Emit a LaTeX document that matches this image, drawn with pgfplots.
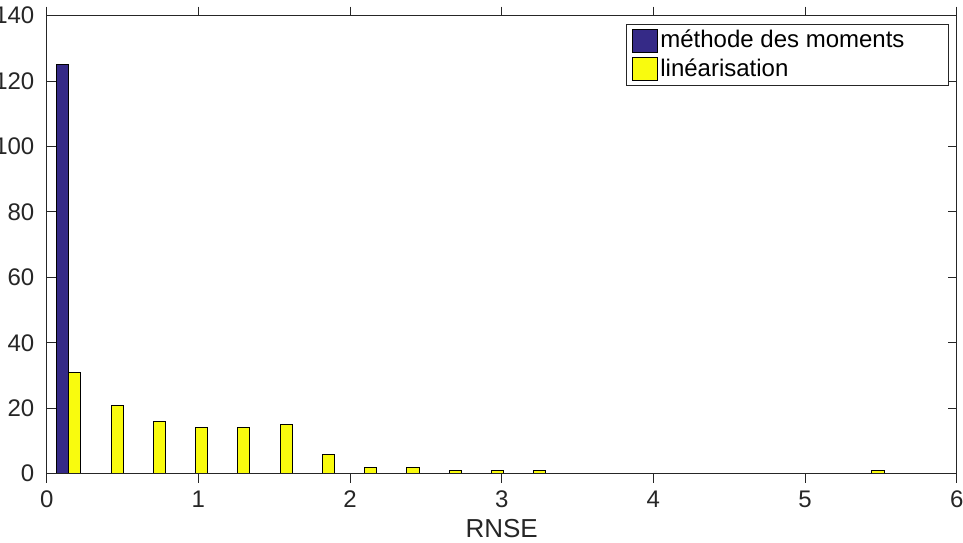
\documentclass[border=0pt]{standalone}
\usepackage{fontspec}
\setmainfont{Liberation Sans}
\usepackage{pgfplots}
\pgfplotsset{compat=1.18}
\definecolor{mblue}{RGB}{53,42,135}
\definecolor{myellow}{RGB}{249,251,14}
\definecolor{axgray}{RGB}{38,38,38}

\pgfplotstableread{
x y
0.146 125
0.424 0
0.703 0
0.982 0
1.260 0
1.539 0
1.818 0
2.097 0
2.375 0
2.654 0
2.933 0
3.211 0
3.490 0
3.769 0
4.047 0
4.326 0
4.605 0
4.883 0
5.162 0
5.441 0
}\moments

\pgfplotstableread{
x y
0.146 31
0.424 21
0.703 16
0.982 14
1.260 14
1.539 15
1.818 6
2.097 2
2.375 2
2.654 1
2.933 1
3.211 1
3.490 0
3.769 0
4.047 0
4.326 0
4.605 0
4.883 0
5.162 0
5.441 1
}\linear

\begin{document}
\fontsize{12}{14}\selectfont
\begin{tikzpicture}
\begin{axis}[
  scale only axis, width=455pt, height=229pt,
  xmin=0, xmax=6, ymin=0, ymax=140,
  xtick={0,1,...,6}, ytick={0,20,...,140},
  xtick pos=both, ytick pos=both,
  xticklabel pos=lower, yticklabel pos=left,
  tick align=inside,
  major tick length=4.5pt,
  every tick/.style={axgray, line width=0.5pt},
  axis line style={axgray, line width=0.5pt},
  /pgf/number format/assume math mode=true,
  tick label style={font=\fontsize{12}{14}\selectfont, text=axgray},
  yticklabel style={xshift=-2pt},
  xlabel={RNSE},
  xlabel style={font=\fontsize{13}{15}\selectfont, text=axgray, yshift=2.5pt},
  ybar, bar width=0.08,
  legend style={at={(1,1)}, anchor=north east, xshift=-3.85pt, yshift=-4.15pt,
    draw=axgray, line width=0.5pt, font=\fontsize{12}{14}\selectfont,
    inner xsep=2.5pt, inner ysep=1pt, row sep=0pt, cells={anchor=west},
    nodes={inner xsep=1.5pt, inner ysep=1.8pt}},
  legend cell align=left,
  legend image code/.code={\draw[#1, line width=0.4pt] (0pt,-5.75pt) rectangle (12.5pt,5.75pt);},
  axis on top,
]
\addplot[fill=mblue, draw=black, line width=0.5pt, bar shift=-0.04] table[x=x,y=y] {\moments};
\addlegendentry{méthode des moments\hspace*{18pt}\mbox{}}
\addplot[fill=myellow, draw=black, line width=0.5pt, bar shift=0.04] table[x=x,y=y] {\linear};
\addlegendentry{linéarisation}
\coordinate (bl) at (rel axis cs:0,0);
\coordinate (tr) at (rel axis cs:1,1);
\end{axis}
\pgfresetboundingbox
\path[use as bounding box] ([xshift=-23.35pt,yshift=-34.5pt]bl) rectangle ([xshift=3.15pt,yshift=7.85pt]tr);
\end{tikzpicture}
\end{document}
